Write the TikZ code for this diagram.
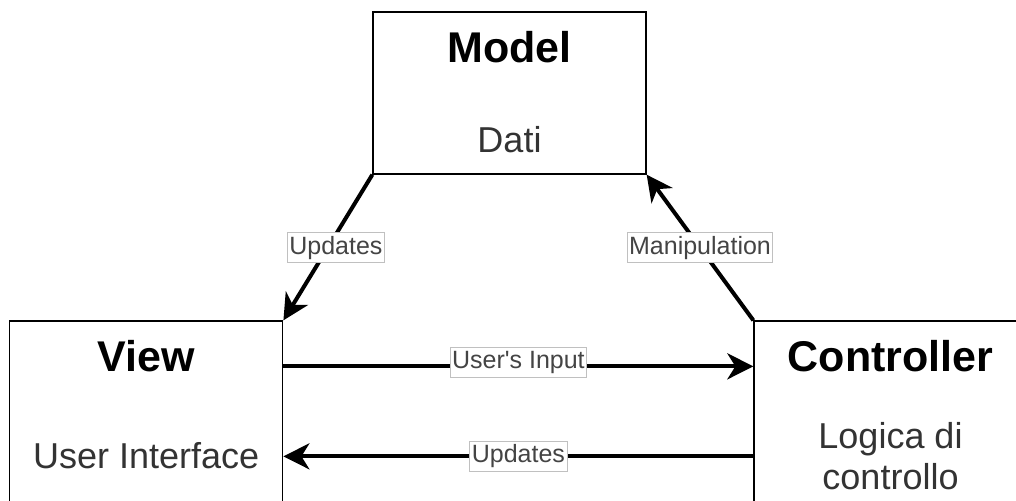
\documentclass[tikz,border=0pt]{standalone}
\usepackage{fontspec}
\setmainfont{Liberation Sans}[Ligatures=TeXOff]
\usetikzlibrary{arrows.meta}
\definecolor{bodygray}{HTML}{333333}
\definecolor{lblborder}{HTML}{C0C0C0}
\definecolor{lbltext}{HTML}{444444}
\begin{document}
\begin{tikzpicture}[x=1pt,y=-1pt,
  box/.style={draw=black, line width=1.3pt, minimum width=273pt, inner sep=0pt},
  title/.style={font=\bfseries\fontsize{43}{50}\selectfont, anchor=base, inner sep=0pt},
  body/.style={font=\fontsize{36}{42}\selectfont, text=bodygray, anchor=base, inner sep=0pt},
  link/.style={line width=4pt, -{Stealth[length=26pt,width=26pt,inset=8pt]}},
  lbl/.style={draw=lblborder, line width=0.8pt, fill=white, text=lbltext,
    font=\fontsize{25}{30}\selectfont, inner xsep=2pt, inner ysep=2.5pt,
    text height=19pt, text depth=6pt}]
\useasboundingbox (0,0) rectangle (1016,500);
\clip (0,0) rectangle (1016,500);
% boxes
\node[box, minimum height=162pt] (model) at (509.5,93) {};
\node[box, minimum height=209pt] (view) at (146.25,425.5) {};
\node[box, minimum height=209pt] (ctrl) at (890.5,425.5) {};
% texts
\node[title] (modelt) at (509.5,63) {Model};
\node[body] (dati) at (509.5,152) {Dati};
\node[title] (viewt) at (146.25,371) {View};
\node[body] (ui) at (146.25,468) {User Interface};
\node[title] (ctrlt) at (890.5,371) {Controller};
\node[body] (logica) at (890.5,448) {Logica di};
\node[body] (controllo) at (890.5,489) {controllo};
% connectors
\draw[link] (model.south west) -- (view.north east)
  node[lbl, pos=0.5, xshift=8pt] (lupd) {Updates};
\draw[link] (ctrl.north west) -- (model.south east)
  node[lbl, pos=0.5] (lman) {Manipulation};
\draw[link] ([yshift=-46pt]view.north east) -- ([yshift=-46pt]ctrl.north west)
  node[lbl, pos=0.5, yshift=4pt] (linp) {User's Input};
\draw[link] ([yshift=-136pt]ctrl.north west) -- ([yshift=-136pt]view.north east)
  node[lbl, pos=0.5] (lupd2) {Updates};
\end{tikzpicture}
\end{document}
